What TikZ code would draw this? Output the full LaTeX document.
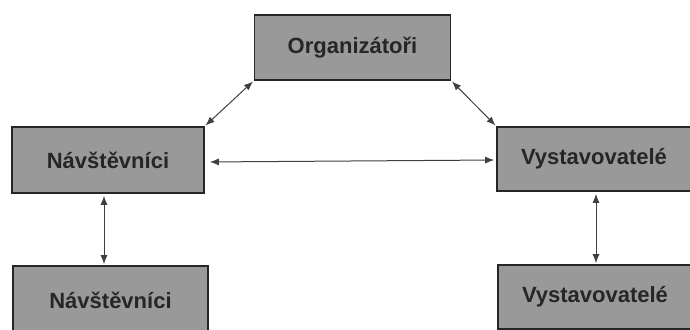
\documentclass[tikz,border=0pt]{standalone}
\usepackage{fontspec}
\setmainfont{Liberation Sans}
\usetikzlibrary{arrows.meta}
\begin{document}
\begin{tikzpicture}[x=1pt,y=-1pt,
  box/.style={draw=black!85, line width=1.6pt, fill=black!40, inner sep=0pt,
    font=\fontsize{22}{24}\selectfont\bfseries, text=black!85},
  link/.style={draw=black!75, line width=1pt,
    {Latex[length=9pt,width=7pt]}-{Latex[length=9pt,width=7pt]}}]
\useasboundingbox (0,0) rectangle (690,329);
\clip (0,0) rectangle (690,329);
\node[box, minimum width=196pt, minimum height=65pt] (org) at (352.5,47.5) {Organizátoři};
\node[box, minimum width=192pt, minimum height=66pt] (nav) at (108,160) {Návštěvníci};
\node[box, minimum width=194pt, minimum height=64pt] (vys) at (594,159) {Vystavovatelé};
\node[box, minimum width=195pt, minimum height=68pt] (nav2) at (110.5,300) {Návštěvníci};
\node[box, minimum width=194pt, minimum height=64pt] (vys2) at (595,297) {Vystavovatelé};
\draw[link, shorten <=1pt, shorten >=1pt] (org.south west) -- (nav.north east);
\draw[link, shorten <=1pt, shorten >=1pt] (org.south east) -- (vys.north west);
\draw[link, shorten <=5pt, shorten >=2pt] ([yshift=-2pt]nav.east) -- ([yshift=-1pt]vys.west);
\draw[link, shorten <=2pt, shorten >=1pt] ([xshift=-4pt]nav.south) -- ([xshift=-4pt]nav.south |- nav2.north);
\draw[link, shorten <=2pt, shorten >=1pt] ([xshift=2pt]vys.south) -- ([xshift=2pt]vys.south |- vys2.north);
\end{tikzpicture}
\end{document}
